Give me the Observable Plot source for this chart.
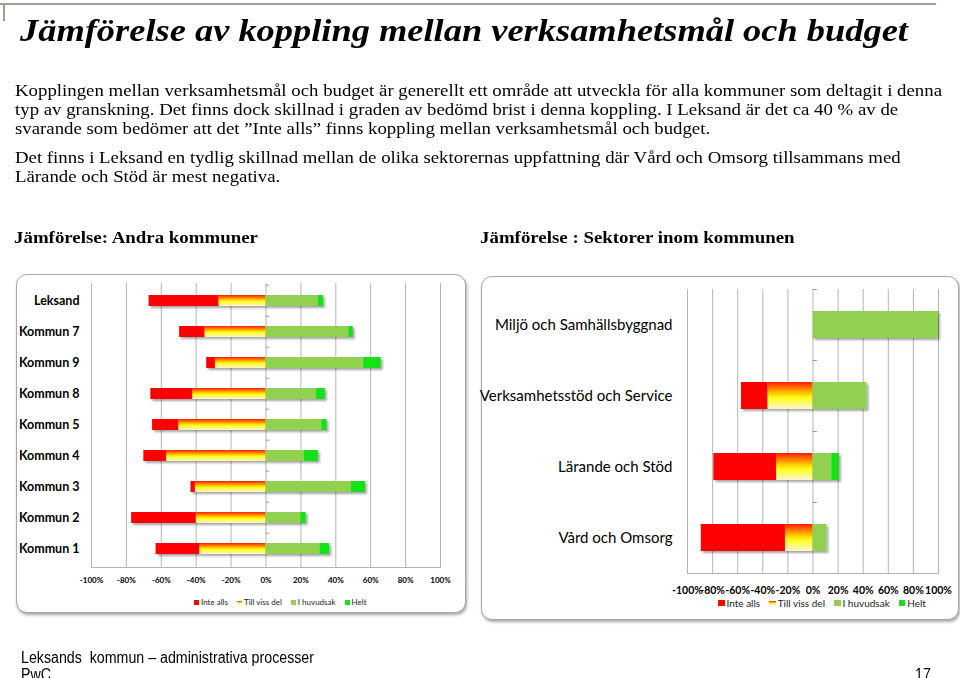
<!DOCTYPE html>
<html><head><meta charset="utf-8">
<script src="https://cdn.jsdelivr.net/npm/d3@7"></script>
<script src="https://cdn.jsdelivr.net/npm/@observablehq/plot@0.6"></script>
<style>
body{margin:0;background:#fff;}
#page{position:relative;width:960px;height:678px;overflow:hidden;color:#000;background:#fff;}
.abs{position:absolute;white-space:pre;line-height:1;transform-origin:0 0;}
.serif{font-family:"Liberation Serif",serif;}
#title{left:20px;top:15px;font-size:31px;font-weight:bold;font-style:italic;}
.p{left:15px;font-size:17.5px;}
.sub{font-size:16px;font-weight:bold;top:230px;}
.foot{font-family:"Liberation Sans",Arial,sans-serif;font-size:16px;}
.box{position:absolute;border:1.5px solid #a8a8a8;border-radius:11px;box-shadow:1px 2px 3px rgba(0,0,0,0.35);background:#fff;}
.chart{position:absolute;}
.legend{position:absolute;display:flex;align-items:center;font-family:Lato,sans-serif;white-space:nowrap;color:#222;}
.legend .sw{display:inline-block;margin-right:2px;}
#topline{position:absolute;left:0;top:3px;width:936px;height:1.5px;background:#a39f8e;}
#sideline{position:absolute;left:3px;top:3px;width:1.5px;height:18px;background:#a39f8e;}
</style></head>
<body>
<svg width="0" height="0" style="position:absolute">
 <defs>
  <linearGradient id="tvGrad" x1="0" y1="0" x2="0" y2="1">
   <stop offset="0" stop-color="#ff1a00"/>
   <stop offset="0.2" stop-color="#ff7000"/>
   <stop offset="0.45" stop-color="#ffd500"/>
   <stop offset="0.6" stop-color="#ffff1e"/>
   <stop offset="1" stop-color="#fff4d2"/>
  </linearGradient>
  <filter id="shadow" x="-5%" y="-20%" width="115%" height="160%">
   <feDropShadow dx="2" dy="2" stdDeviation="1.2" flood-color="#000" flood-opacity="0.35"/>
  </filter>
 </defs>
</svg>
<div id="page">
 <div id="topline"></div><div id="sideline"></div>
 <div id="title" class="abs serif" data-w="888">Jämförelse av koppling mellan verksamhetsmål och budget</div>
 <div class="abs serif p" data-group="p" data-w="927" style="top:82.3px">Kopplingen mellan verksamhetsmål och budget är generellt ett område att utveckla för alla kommuner som deltagit i denna</div>
 <div class="abs serif p" data-group="p" style="top:101px">typ av granskning. Det finns dock skillnad i graden av bedömd brist i denna koppling. I Leksand är det ca 40 % av de</div>
 <div class="abs serif p" data-group="p" style="top:119.7px">svarande som bedömer att det ”Inte alls” finns koppling mellan verksamhetsmål och budget.</div>
 <div class="abs serif p" data-group="p" style="top:148.8px">Det finns i Leksand en tydlig skillnad mellan de olika sektorernas uppfattning där Vård och Omsorg tillsammans med</div>
 <div class="abs serif p" data-group="p" style="top:167.5px">Lärande och Stöd är mest negativa.</div>
 <div class="abs serif sub" data-group="sub" data-w="244" style="left:14px">Jämförelse: Andra kommuner</div>
 <div class="abs serif sub" data-group="sub" style="left:480px">Jämförelse : Sektorer inom kommunen</div>
 <div class="box" style="left:16px;top:274px;width:448px;height:337px"></div>
 <div class="box" style="left:481px;top:276px;width:476px;height:342px"></div>
 <div id="leftChart" class="chart" style="left:14px;top:276px"></div>
 <div id="rightChart" class="chart" style="left:482px;top:280px"></div>
 <div id="leftLegend" class="legend" style="left:194px;top:597px;font-size:8px;"></div>
 <div id="rightLegend" class="legend" style="left:718px;top:597px;font-size:10px;"></div>
 <div class="abs foot" data-group="f" data-w="293" style="left:21px;top:649.5px">Leksands  kommun – administrativa processer</div>
 <div class="abs foot" data-group="f" style="left:21px;top:667px">PwC</div>
 <div class="abs foot" data-group="f" style="left:915px;top:667px">17</div>
</div>
<script>
// ---- data ----
const series = ["Inte alls", "Till viss del", "I huvudsak", "Helt"];
const seriesColors = ["#ff0000", "url(#tvGrad)", "#92d050", "#16e016"];
const xTicks = [-100, -80, -60, -40, -20, 0, 20, 40, 60, 80, 100];

const kommuner = ["Leksand", "Kommun 7", "Kommun 9", "Kommun 8", "Kommun 5", "Kommun 4", "Kommun 3", "Kommun 2", "Kommun 1"];
const inteAllsK = [40, 14.5, 5, 24, 15, 13, 2.5, 37, 25];
const tillVissK = [27, 35, 29, 42, 50, 57, 40.5, 40, 38];
const huvudsakK = [30, 47.5, 56, 29, 32, 22, 49, 20, 31];
const heltK     = [3, 2.5, 10, 5, 3, 8, 8, 3, 5.5];

const sektorer = ["Miljö och Samhällsbyggnad", "Verksamhetsstöd och Service", "Lärande och Stöd", "Vård och Omsorg"];
const inteAllsS = [0, 21, 50, 67];
const tillVissS = [0, 36, 29, 22];
const huvudsakS = [100, 43, 15, 11];
const heltS     = [0, 0, 6, 0];

function rowsFor(cats, ia, tv, hv, h) {
  const rows = [];
  cats.forEach((c, i) => {
    rows.push({cat: c, series: "Till viss del", value: -tv[i]});
    rows.push({cat: c, series: "Inte alls", value: -ia[i]});
    rows.push({cat: c, series: "I huvudsak", value: hv[i]});
    rows.push({cat: c, series: "Helt", value: h[i]});
  });
  return rows;
}
const stackOrder = ["Till viss del", "Inte alls", "I huvudsak", "Helt"];

function makeChart(o) {
  const innerH = o.height - o.marginTop - o.marginBottom;
  const step = innerH / o.cats.length;
  const plot = Plot.plot({
    width: o.width, height: o.height,
    marginLeft: o.marginLeft, marginRight: o.marginRight,
    marginTop: o.marginTop, marginBottom: o.marginBottom,
    style: {fontFamily: "Lato, sans-serif", background: "transparent", overflow: "visible", color: "#000"},
    x: {domain: [-100, 100]},
    y: {domain: o.cats, paddingInner: o.pad, paddingOuter: o.pad / 2},
    color: {domain: series, range: seriesColors},
    marks: [
      Plot.gridX(xTicks, {stroke: "#b5b5b5", strokeOpacity: 1, strokeWidth: 1}),
      Plot.ruleY(o.cats, {y: d => d, x1: 0, x2: o.tickLen, dy: -step / 2, stroke: "#9a9a9a"}),
      Plot.frame({anchor: "bottom", stroke: "#b5b5b5"}),
      Plot.barX(o.rows, Plot.stackX({x: "value", y: "cat", fill: "series", order: stackOrder})),
      Plot.axisX(xTicks, {tickSize: 0, tickPadding: o.xPad, tickFormat: d => d + "%", fontSize: o.xFont, fontWeight: "bold", label: null, fill: "#000"}),
      Plot.axisY({tickSize: 0, tickPadding: o.yPad, fontSize: o.yFont, fontWeight: o.yWeight, label: null, fill: "#000"})
    ]
  });
  d3.select(plot).selectAll('g[aria-label="bar"]').attr("filter", "url(#shadow)");
  return plot;
}

document.getElementById("leftChart").append(makeChart({
  cats: kommuner, rows: rowsFor(kommuner, inteAllsK, tillVissK, huvudsakK, heltK),
  width: 451, height: 312, marginLeft: 77, marginRight: 25, marginTop: 7, marginBottom: 21,
  pad: 0.63, tickLen: 2, xPad: 10, xFont: 8, yPad: 12, yFont: 12.5, yWeight: "bold"
}));
document.getElementById("rightChart").append(makeChart({
  cats: sektorer, rows: rowsFor(sektorer, inteAllsS, tillVissS, huvudsakS, heltS),
  width: 474, height: 318, marginLeft: 205, marginRight: 18, marginTop: 9, marginBottom: 25,
  pad: 0.62, tickLen: 3.5, xPad: 13.5, xFont: 10.5, yPad: 15, yFont: 15, yWeight: "normal"
}));

function legend(id, sw, gap) {
  const el = document.getElementById(id);
  series.forEach((s, i) => {
    const item = document.createElement("span");
    item.style.display = "inline-flex";
    item.style.alignItems = "center";
    item.style.marginRight = gap + "px";
    const box = document.createElement("span");
    box.className = "sw";
    box.style.width = sw + "px";
    box.style.height = (i === 1 ? Math.round(sw * 0.6) : sw) + "px";
    box.style.background = i === 1 ? "linear-gradient(#ff1a00, #ffb000 35%, #ffff20 60%, #fff4d2)" : seriesColors[i];
    item.append(box, document.createTextNode(s));
    el.append(item);
  });
}
legend("leftLegend", 5, 9);
legend("rightLegend", 6.5, 9);

// one horizontal scale per text group, taken from the element carrying data-w
function fitAll() {
  const title = document.getElementById("title");
  const groups = {};
  document.querySelectorAll("[data-group]").forEach(el => {
    (groups[el.dataset.group] = groups[el.dataset.group] || []).push(el);
  });
  const items = [[title], ...Object.values(groups)];
  items.forEach(els => {
    els.forEach(el => el.style.transform = "none");
    const ref = els.find(el => el.dataset.w);
    const k = (+ref.dataset.w) / ref.getBoundingClientRect().width;
    els.forEach(el => el.style.transform = `scaleX(${k})`);
  });
}
fitAll();
if (document.fonts && document.fonts.ready) document.fonts.ready.then(fitAll);
</script>
</body></html>
